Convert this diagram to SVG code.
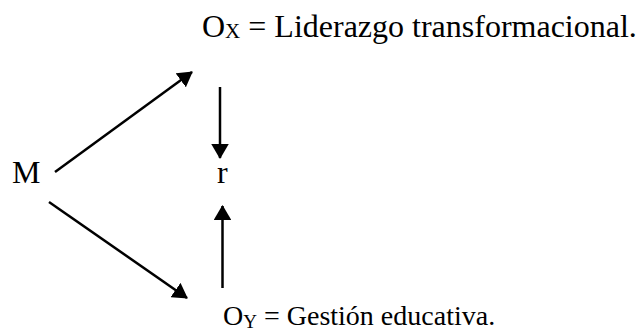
<svg xmlns="http://www.w3.org/2000/svg" width="639" height="336" viewBox="0 0 639 336">
<style>
text{font-family:"Liberation Serif","Times New Roman",serif;fill:#000}
.t{font-size:32px}
.b{font-size:28px}
.s{font-size:21px}
.s2{font-size:19px}
.c{stroke:#000;stroke-width:2.5;fill:none}
</style>
<defs>
<marker id="ah" markerWidth="6" markerHeight="7" refX="5.6" refY="3.5" orient="auto" markerUnits="strokeWidth" viewBox="0 0 6 7">
<path d="M0,0 L6,3.5 L0,7 Z" fill="#000"/>
</marker>
</defs>
<rect width="639" height="336" fill="#fff"/>
<g id="ox"><text class="t" x="202" y="37">O<tspan class="s" dy="1">X</tspan><tspan dy="-1"> = Liderazgo transformacional.</tspan></text></g>
<g id="m"><text class="t" x="12" y="183">M</text></g>
<g id="r"><text class="t" x="217" y="183">r</text></g>
<g id="oy"><text class="b" x="223" y="325">O<tspan class="s2" dy="3">Y</tspan><tspan dy="-3"> = Gestión educativa.</tspan></text></g>
<g id="connectors">
<line class="c" x1="55" y1="172" x2="192" y2="72" marker-end="url(#ah)"/>
<line class="c" x1="49" y1="202" x2="187" y2="298" marker-end="url(#ah)"/>
<line class="c" x1="220" y1="87" x2="220" y2="158" marker-end="url(#ah)"/>
<line class="c" x1="222.5" y1="288" x2="222.5" y2="206" marker-end="url(#ah)"/>
</g>
</svg>
